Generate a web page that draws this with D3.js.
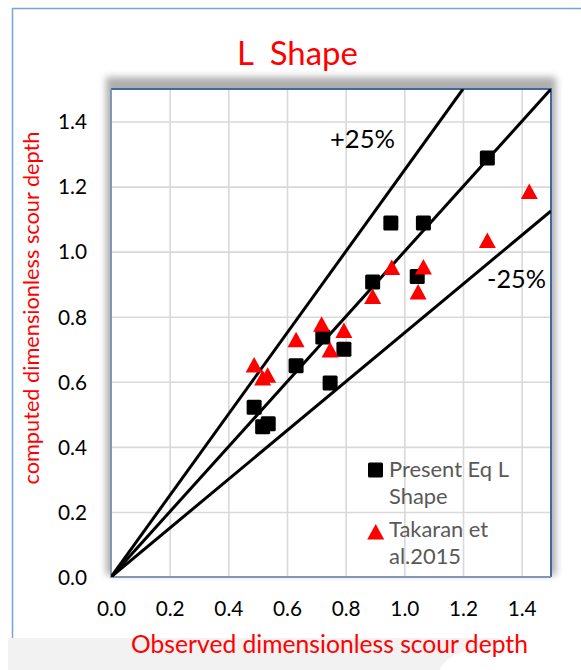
<!DOCTYPE html>
<html>
<head>
<meta charset="utf-8">
<script src="https://cdn.jsdelivr.net/npm/d3@7"></script>
<style>
  html, body { margin: 0; padding: 0; background: #fff; }
  svg { display: block; }
  text { font-family: Lato, "Open Sans", sans-serif; }
</style>
</head>
<body>
<svg id="chart" width="581" height="670"></svg>
<script>
// ---- data ----
const presentObserved = [1.283, 0.954, 1.065, 0.892, 1.044, 0.722, 0.794, 0.747, 0.631, 0.488, 0.517, 0.536];
const presentComputed = [1.288, 1.088, 1.088, 0.907, 0.924, 0.738, 0.700, 0.596, 0.649, 0.522, 0.462, 0.471];
const takaranObserved = [1.426, 1.283, 0.957, 1.065, 0.892, 1.047, 0.718, 0.794, 0.747, 0.631, 0.488, 0.517, 0.534];
const takaranComputed = [1.185, 1.034, 0.951, 0.953, 0.862, 0.876, 0.777, 0.758, 0.698, 0.729, 0.652, 0.612, 0.620];
const xTicks = [0, 0.2, 0.4, 0.6, 0.8, 1.0, 1.2, 1.4];
const yTicks = [0, 0.2, 0.4, 0.6, 0.8, 1.0, 1.2, 1.4];
const bandFactors = [1.25, 1.0, 0.75];
const bandLabels = ["+25%", "-25%"];
const legendLabels = [["Present Eq L", "Shape"], ["Takaran et", "al.2015"]];
const titleText = "L  Shape";
const xTitle = "Observed dimensionless scour depth";
const yTitle = "computed dimensionless scour depth";
const axisMax = 1.5;

const svg = d3.select("#chart");
const L = 111, R = 551, T = 89, B = 577;
const x = d3.scaleLinear([0, axisMax], [L, R]);
const y = d3.scaleLinear([0, axisMax], [B, T]);

function fit(sel, w) {
  const n = sel.node();
  const fs = parseFloat(sel.attr("font-size"));
  const len = n.getComputedTextLength();
  sel.attr("font-size", (fs * w / len).toFixed(2));
  return sel;
}
function measureSize(str, w) {
  const t = svg.append("text").attr("font-size", 20).text(str);
  const fs = 20 * w / t.node().getComputedTextLength();
  t.remove();
  return fs;
}

// outer chart frame
svg.append("path").attr("d", `M12.5,670 V8.5 H581`).attr("fill", "none")
  .attr("stroke", "#79a2d8").attr("stroke-width", 1.5);

// faint background band at bottom
svg.append("path")
  .attr("d", "M8,638 H500 V645 C470,648 445,655 440,670 H8 Z")
  .attr("fill", "#f2f2f2");

// soft shadow behind plot area
const defs = svg.append("defs");
const f = defs.append("filter").attr("id", "sh").attr("x", "-10%").attr("y", "-10%").attr("width", "120%").attr("height", "120%");
f.append("feGaussianBlur").attr("stdDeviation", 3.5);
svg.append("rect").attr("x", L - 5).attr("y", T - 12).attr("width", R - L + 10).attr("height", B - T + 10)
  .attr("fill", "#a0a0a0").attr("opacity", 0.85).attr("filter", "url(#sh)");
svg.append("rect").attr("x", L).attr("y", T).attr("width", R - L).attr("height", B - T).attr("fill", "#fff");

defs.append("clipPath").attr("id", "clip").append("rect")
  .attr("x", L).attr("y", T).attr("width", R - L).attr("height", B - T);

// gridlines
svg.append("g").attr("transform", `translate(0,${B})`)
  .call(d3.axisBottom(x).tickValues(xTicks.slice(1)).tickSize(-(B - T)).tickFormat(""))
  .call(g => g.select(".domain").remove())
  .call(g => g.selectAll("line").attr("stroke", "#d9d9d9").attr("stroke-width", 1.6));
svg.append("g").attr("transform", `translate(${L},0)`)
  .call(d3.axisLeft(y).tickValues(yTicks.slice(1)).tickSize(-(R - L)).tickFormat(""))
  .call(g => g.select(".domain").remove())
  .call(g => g.selectAll("line").attr("stroke", "#d9d9d9").attr("stroke-width", 1.6));

// plot border
svg.append("path").attr("d", `M${L},${T} H${R} V${B}`).attr("fill", "none")
  .attr("stroke", "#3f6a9c").attr("stroke-width", 2);
svg.append("path").attr("d", `M${L},${T} V${B} H${R}`).attr("fill", "none")
  .attr("stroke", "#8496b0").attr("stroke-width", 2);

// reference lines
const lineGen = d3.line().x(d => x(d[0])).y(d => y(d[1]));
const gLines = svg.append("g").attr("clip-path", "url(#clip)");
bandFactors.forEach(k => {
  const end = k >= 1 ? [axisMax / k, axisMax] : [axisMax, axisMax * k];
  gLines.append("path").attr("d", lineGen([[0, 0], end]))
    .attr("fill", "none").attr("stroke", "#000").attr("stroke-width", 3);
});

// markers
const sq = 15;
const triPath = "M0,-8 L8.5,7.5 L-8.5,7.5 Z";
svg.append("g").selectAll("rect").data(presentObserved.map((v, i) => [v, presentComputed[i]]))
  .join("rect")
  .attr("x", d => x(d[0]) - sq / 2).attr("y", d => y(d[1]) - sq / 2)
  .attr("width", sq).attr("height", sq).attr("rx", 1.5).attr("fill", "#000");
svg.append("g").selectAll("path").data(takaranObserved.map((v, i) => [v, takaranComputed[i]]))
  .join("path")
  .attr("transform", d => `translate(${x(d[0])},${y(d[1])})`)
  .attr("d", triPath).attr("fill", "#ff0000");

// band labels
fit(svg.append("text").attr("x", 330).attr("y", 148).attr("font-size", 24).attr("fill", "#000").text(bandLabels[0]), 65);
fit(svg.append("text").attr("x", 487).attr("y", 288).attr("font-size", 24).attr("fill", "#000").text(bandLabels[1]), 59);

// axes tick labels
const tickFs = measureSize("1.4", 29);
svg.append("g").attr("transform", `translate(0,${B})`)
  .call(d3.axisBottom(x).tickValues(xTicks).tickSize(0).tickFormat(d3.format(".1f")))
  .call(g => g.select(".domain").remove())
  .call(g => g.selectAll("text").attr("font-size", tickFs).attr("font-family", "Lato")
    .attr("fill", "#000").attr("dy", null).attr("y", 39));
svg.append("g").attr("transform", `translate(87,0)`)
  .call(d3.axisLeft(y).tickValues(yTicks).tickSize(0).tickPadding(0).tickFormat(d3.format(".1f")))
  .call(g => g.select(".domain").remove())
  .call(g => g.selectAll("text").attr("font-size", tickFs).attr("font-family", "Lato")
    .attr("fill", "#000").attr("dy", "0.35em").attr("x", 0));

// title
fit(svg.append("text").attr("x", 237).attr("y", 65).attr("font-size", 30)
  .attr("fill", "#ff0000").style("white-space", "pre").text(titleText), 121);

// axis titles
const xt = svg.append("text").attr("x", 329.5).attr("y", 653).attr("text-anchor", "middle")
  .attr("font-size", 20).attr("fill", "#ff0000").text(xTitle);
fit(xt, 397);
const yt = svg.append("text").attr("transform", "translate(39,308) rotate(-90)")
  .attr("text-anchor", "middle").attr("font-size", 20).attr("fill", "#ff0000").text(yTitle);
fit(yt, 353);

// legend
const legFs = measureSize(legendLabels[0][0], 120);
const leg = svg.append("g");
leg.append("rect").attr("x", 368).attr("y", 462.5).attr("width", 15).attr("height", 15).attr("rx", 1.5).attr("fill", "#000");
leg.append("path").attr("transform", "translate(375.7,532)").attr("d", triPath).attr("fill", "#ff0000");
const legY = [[477, 504], [537, 564]];
legendLabels.forEach((lines, i) => {
  lines.forEach((s, j) => {
    leg.append("text").attr("x", 389).attr("y", legY[i][j]).attr("font-size", legFs)
      .attr("fill", "#595959").text(s);
  });
});
</script>
</body>
</html>
